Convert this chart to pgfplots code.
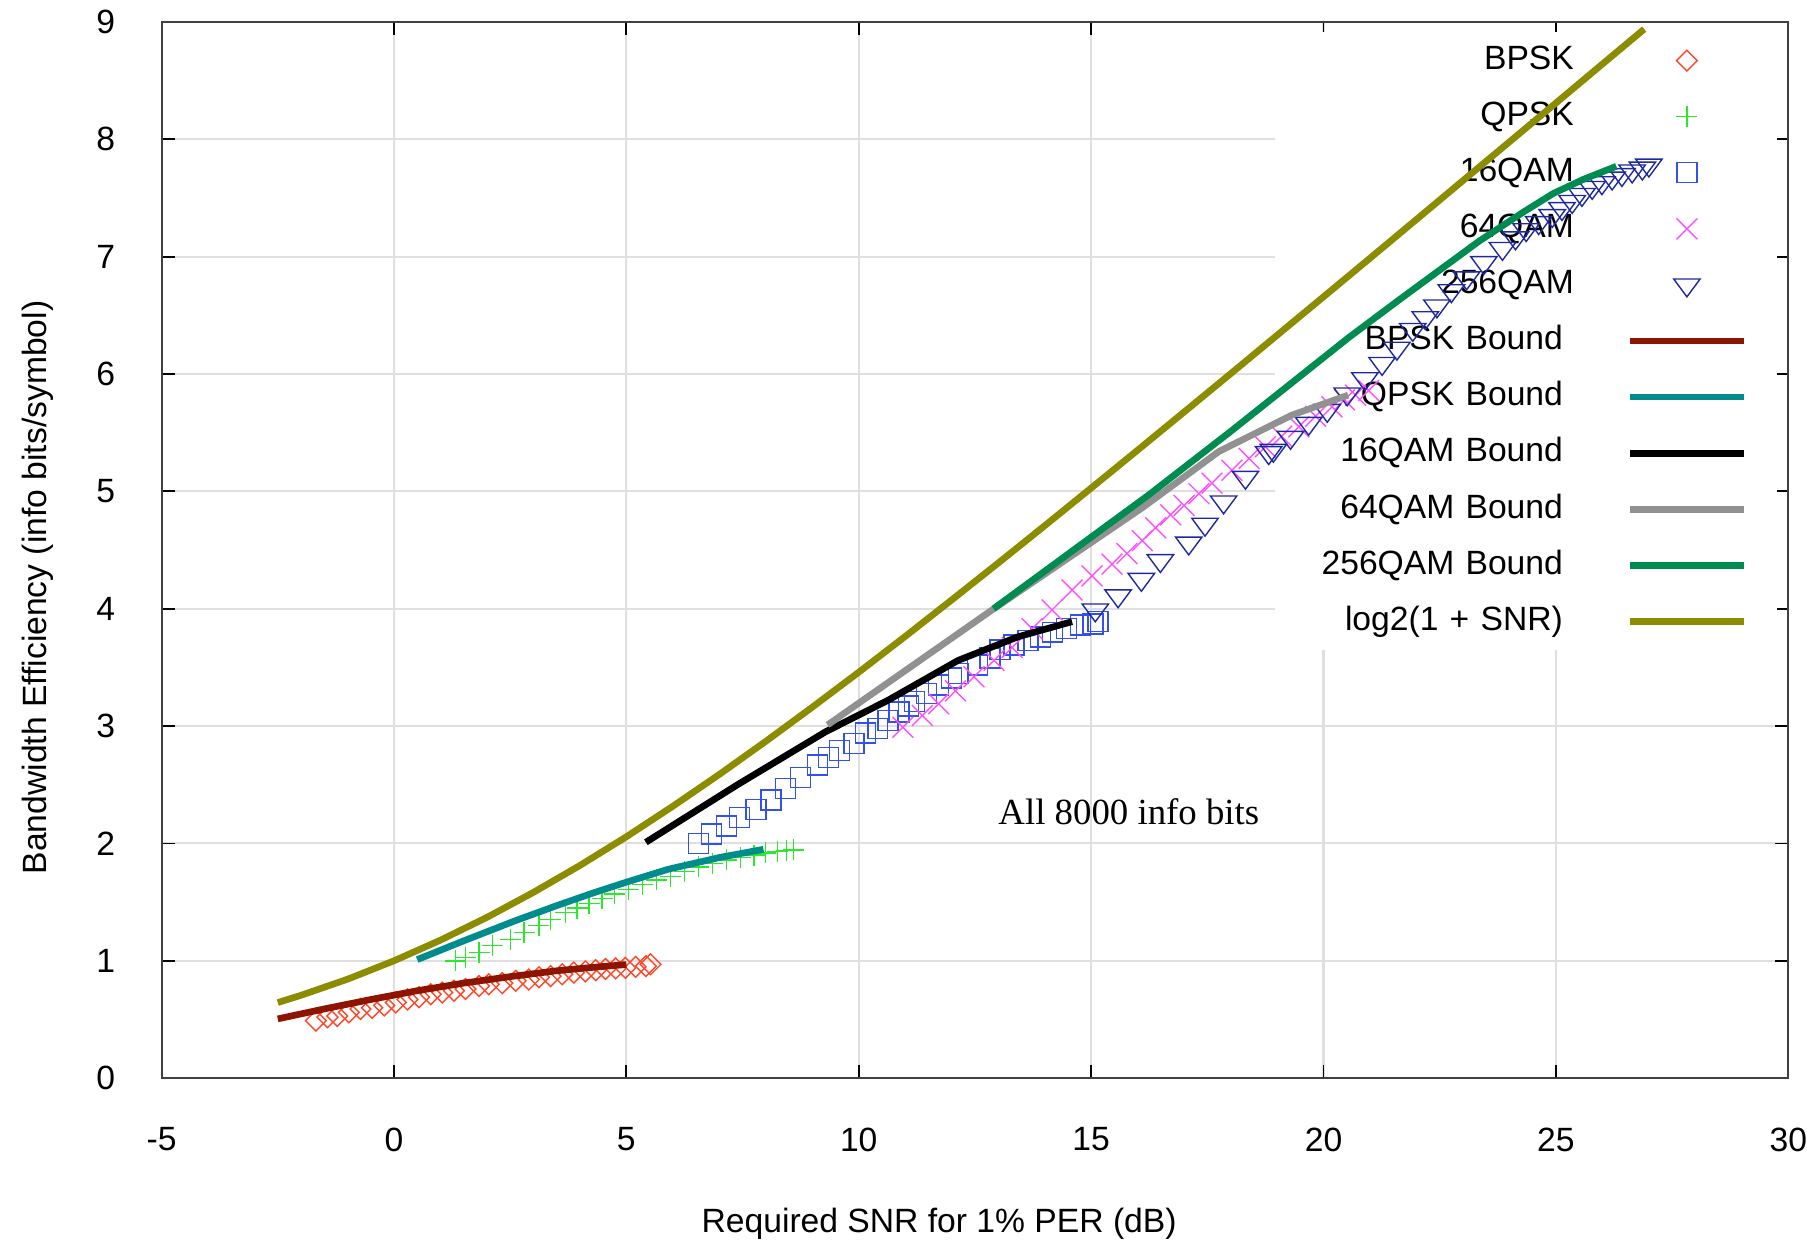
\documentclass[border=0pt]{standalone}
\usepackage{fontspec}
\setmainfont{Liberation Sans}
\newfontfamily\serifann{Liberation Serif}
\usepackage{pgfplots}
\pgfplotsset{compat=1.18}
% curves go on a top layer so that they run over the (white) legend box,
% while the grid stays hidden under it
\pgfdeclarelayer{plots}
\pgfplotsset{layers/gplayers/.define layer set={axis background,axis grid,axis tick labels,pre main,main,axis descriptions,axis foreground,axis ticks,axis lines,plots}{}}

\definecolor{bpskc}{RGB}{255,70,40}
\definecolor{qpskc}{RGB}{40,235,40}
\definecolor{qam16c}{RGB}{50,80,240}
\definecolor{qam64c}{RGB}{255,80,255}
\definecolor{qam256c}{RGB}{30,40,160}
\definecolor{bpskb}{RGB}{140,20,0}
\definecolor{qpskb}{RGB}{0,140,140}
\definecolor{qam64b}{RGB}{145,145,145}
\definecolor{qam256b}{RGB}{0,140,80}
\definecolor{shan}{RGB}{140,140,0}

\newcommand{\gap}{\rule{0.11cm}{0pt}}

\begin{document}
\begin{tikzpicture}
\begin{axis}[
    name=ax, set layers=gplayers,
    every axis plot/.append style={on layer=plots},
    mark layer=plots,
    scale only axis, width=16.31cm, height=10.59cm,
    xmin=-5, xmax=30, ymin=0, ymax=9,
    xtick={-5,0,...,30}, ytick={0,1,...,9},
    tick align=inside, major tick length=0.13cm,
    tick style={black, line width=0.5pt},
    axis line style={black!75, line width=0.6pt},
    grid=major, major grid style={gray!25, line width=0.6pt},
    font=\fontsize{9.6}{11.5}\selectfont,
    /pgf/number format/assume math mode=true,
    xticklabel style={inner sep=0pt, yshift=-0.49cm},
    yticklabel style={inner sep=0pt, xshift=-0.46cm},
    xlabel={Required SNR for 1\% PER (dB)},
    ylabel={Bandwidth Efficiency (info bits/symbol)},
    every axis x label/.style={at={(axis description cs:0.478,-0.138)}, anchor=center, inner sep=0pt},
    every axis y label/.style={at={(axis description cs:-0.076,0.4646)}, anchor=center, rotate=90, inner sep=0pt},
    legend cell align=right, legend plot pos=right,
    legend style={at={(0.9935,0.991)}, anchor=north east, fill=white, draw=none,
        inner xsep=0.3cm, inner ysep=0.12cm, row sep=0.232cm, column sep=0.53cm,
        font=\fontsize{9.6}{11.5}\selectfont,
        nodes={inner sep=0pt, text height=7.2pt, text depth=2.2pt, text width=2.7cm, align=right}},
    legend image code/.code={\draw[mark repeat=2,mark phase=2,#1] plot coordinates {(0cm,0cm) (0.57cm,0cm) (1.14cm,0cm)};},
]

% simulated codes
\addplot[only marks, color=bpskc, mark=square, mark size=2.1pt, mark options={rotate=45, line width=0.4pt}] table {
x y
-1.68 0.49
-1.43 0.52
-1.22 0.53
-0.97 0.56
-0.72 0.59
-0.47 0.60
-0.21 0.62
0.04 0.645
0.29 0.67
0.54 0.69
0.79 0.715
1.04 0.73
1.29 0.745
1.54 0.76
1.83 0.785
2.04 0.80
2.33 0.81
2.62 0.83
2.90 0.84
3.12 0.86
3.37 0.87
3.62 0.885
3.87 0.90
4.12 0.91
4.34 0.92
4.55 0.93
4.77 0.935
4.98 0.94
5.20 0.948
5.42 0.955
5.52 0.97
};
\addlegendentry{BPSK}

\addplot[only marks, color=qpskc, mark=+, mark size=3pt, mark options={line width=0.4pt}] table {
x y
1.33 1.00
1.54 1.03
1.83 1.07
2.12 1.13
2.51 1.18
2.80 1.24
3.12 1.30
3.37 1.35
3.69 1.41
3.94 1.45
4.20 1.49
4.48 1.53
4.75 1.57
5.05 1.61
5.35 1.65
5.65 1.69
5.95 1.72
6.25 1.76
6.55 1.80
6.85 1.83
7.15 1.86
7.45 1.88
7.75 1.90
8.00 1.92
8.25 1.93
8.45 1.94
8.60 1.945
};
\addlegendentry{QPSK}

\addplot[only marks, color=qam16c, mark=square, mark size=2.85pt, mark options={line width=0.4pt}] table {
x y
6.55 2.00
6.83 2.08
7.15 2.15
7.43 2.22
7.79 2.29
8.11 2.37
8.43 2.47
8.75 2.56
9.11 2.67
9.35 2.73
9.58 2.79
9.90 2.85
10.14 2.94
10.41 2.98
10.63 3.05
10.87 3.12
11.07 3.17
11.20 3.21
11.46 3.28
11.72 3.35
11.99 3.41
12.14 3.45
12.55 3.52
12.82 3.58
13.04 3.65
13.34 3.69
13.64 3.73
13.91 3.76
14.17 3.80
14.47 3.83
14.77 3.86
15.04 3.87
15.15 3.89
};
\addlegendentry{16QAM}

\addplot[only marks, color=qam64c, mark=x, mark size=4.2pt, mark options={line width=0.4pt}] table {
x y
10.95 2.99
11.37 3.09
11.72 3.19
12.08 3.30
12.48 3.42
12.91 3.56
13.30 3.67
13.73 3.83
14.16 3.99
14.59 4.16
15.02 4.28
15.45 4.38
15.77 4.47
16.10 4.58
16.39 4.69
16.71 4.80
17.00 4.88
17.32 4.98
17.60 5.07
18.03 5.18
18.40 5.28
18.75 5.38
19.10 5.47
19.47 5.55
19.83 5.64
20.18 5.72
20.45 5.78
20.69 5.82
20.97 5.86
};
\addlegendentry{64QAM}

\addplot[only marks, color=qam256c, mark=triangle, mark size=4.35pt, mark options={rotate=180, yscale=0.78, line width=0.4pt}] table {
x y
15.09 3.99
15.58 4.11
16.08 4.25
16.49 4.41
17.10 4.56
17.45 4.72
17.85 4.91
18.32 5.12
18.82 5.33
18.92 5.35
19.29 5.46
19.68 5.58
20.08 5.69
20.51 5.83
20.89 5.96
21.26 6.09
21.58 6.22
21.92 6.38
22.19 6.48
22.44 6.58
22.75 6.71
23.08 6.82
23.45 6.95
23.85 7.07
24.13 7.16
24.36 7.23
24.63 7.29
24.92 7.35
25.13 7.41
25.35 7.47
25.56 7.53
25.78 7.59
25.99 7.63
26.21 7.67
26.42 7.70
26.64 7.73
26.86 7.755
27.00 7.78
};
\addlegendentry{256QAM}

% bounds
\addplot[color=bpskb, line width=1.9pt, line join=round, no marks] table {
x y
-2.5 0.505
-1.5 0.59
-0.5 0.67
0.5 0.745
1.5 0.81
2.5 0.865
3.5 0.915
4.3 0.945
5.0 0.968
};
\addlegendentry{BPSK Bound\gap}

\addplot[color=qpskb, line width=1.9pt, line join=round, no marks] table {
x y
0.5 1.01
1.5 1.17
2.6 1.34
3.5 1.47
4.3 1.58
5.0 1.67
5.9 1.78
7.0 1.88
7.95 1.95
};
\addlegendentry{QPSK Bound\gap}

\addplot[color=black, line width=1.9pt, line join=round, no marks] table {
x y
5.42 2.01
7.39 2.50
9.28 2.95
10.63 3.22
12.14 3.56
13.42 3.76
14.59 3.89
};
\addlegendentry{16QAM Bound\gap}

\addplot[color=qam64b, line width=1.9pt, line join=round, no marks] table {
x y
9.33 3.01
12.87 3.99
16.1 4.86
17.75 5.34
19.32 5.65
20.53 5.82
};
\addlegendentry{64QAM Bound\gap}

\addplot[color=qam256b, line width=1.9pt, line join=round, no marks] table {
x y
12.9 4.00
16.24 4.97
18.0 5.51
20.54 6.31
21.62 6.63
23.34 7.13
24.3 7.38
24.95 7.54
25.6 7.66
26.3 7.77
};
\addlegendentry{256QAM Bound\gap}

\addplot[color=shan, line width=1.9pt, line join=round, no marks] table {
x y
-2.5 0.644
-2 0.706
-1 0.843
0 1.000
1 1.176
2 1.370
3 1.583
4 1.812
5 2.057
6 2.317
7 2.588
8 2.870
9 3.161
10 3.459
11 3.764
12 4.075
13 4.389
14 4.707
15 5.028
16 5.351
17 5.676
18 6.002
19 6.330
20 6.658
21 6.987
22 7.317
23 7.648
24 7.978
25 8.309
26 8.641
26.9 8.939
};
\addlegendentry{log2(1 + SNR)\gap}

\node[font=\serifann\fontsize{10.5}{12}\selectfont, anchor=west] at (axis cs:12.74,2.27) {All 8000 info bits};
\end{axis}
\path ([xshift=-1.62cm,yshift=-1.61cm]ax.south west) rectangle ([xshift=0.14cm,yshift=0.22cm]ax.north east);
\end{tikzpicture}
\end{document}
